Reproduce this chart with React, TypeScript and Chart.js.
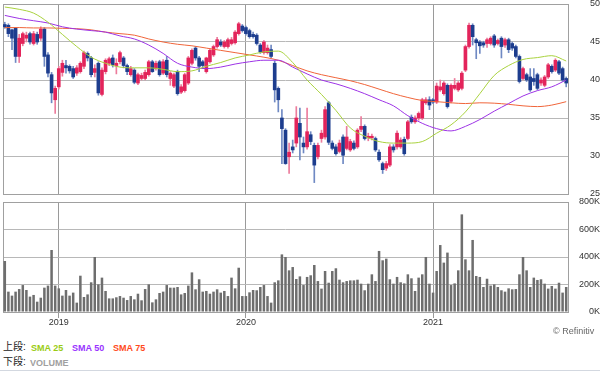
import React, { useEffect, useRef } from 'react';
import { Chart, registerables } from 'chart.js';

Chart.register(...registerables);

// ---------- data ----------
const yearLabels = ['2019', '2020', '2021'];
const yearIndex = [15, 67, 119];

const opens = [
  47.3, 47.2, 46.6, 46.8, 43.1, 44.8, 45.5, 46.1, 44.8, 46.0,
  45.5, 46.7, 43.3, 40.7, 37.4, 39.1, 41.0, 41.9, 41.8, 41.5,
  40.9, 41.1, 41.8, 43.5, 42.9, 41.0, 42.2, 38.1, 41.1, 42.2,
  42.9, 41.9, 42.4, 42.9, 41.9, 40.7, 41.3, 39.6, 40.2, 40.2,
  40.7, 42.4, 41.5, 42.4, 40.9, 42.6, 40.2, 39.2, 41.1, 38.4,
  38.6, 39.6, 42.2, 44.2, 42.9, 42.4, 41.1, 42.4, 43.3, 44.4,
  45.0, 44.4, 44.4, 44.8, 44.9, 46.1, 47.1, 46.9, 46.5, 46.0,
  45.9, 44.6, 43.6, 43.6, 44.0, 42.2, 38.9, 35.0, 33.4, 29.9,
  31.2, 31.7, 34.3, 31.7, 31.2, 32.8, 31.4, 29.9, 32.3, 32.5,
  37.0, 31.7, 31.2, 30.6, 32.5, 31.0, 30.8, 31.7, 31.2, 33.5,
  33.9, 32.4, 32.4, 32.3, 30.5, 29.0, 28.4, 28.8, 31.2, 31.2,
  31.2, 32.2, 32.3, 35.1, 34.5, 35.0, 35.0, 37.0, 37.4, 37.4,
  37.1, 38.7, 38.2, 39.3, 37.2, 38.9, 38.7, 38.9, 41.3, 44.4,
  47.2, 45.3, 45.0, 44.9, 44.8, 44.8, 45.8, 44.8, 45.5, 44.6,
  45.3, 44.8, 44.4, 43.1, 40.2, 40.7, 40.4, 40.2, 40.7, 39.6,
  39.3, 40.4, 41.8, 41.3, 42.4, 41.5, 40.2,
];
const highs = [
  47.6, 47.4, 46.7, 46.9, 46.0, 46.3, 46.3, 46.3, 46.4, 46.3,
  47.0, 46.9, 43.6, 41.0, 39.2, 41.8, 42.6, 42.6, 42.0, 41.8,
  41.9, 42.4, 43.8, 43.7, 43.1, 42.0, 42.4, 41.6, 42.8, 43.0,
  43.3, 42.8, 43.8, 43.1, 42.1, 41.8, 41.5, 40.9, 40.9, 41.3,
  42.6, 42.6, 42.5, 42.6, 42.7, 43.1, 41.1, 40.9, 41.3, 39.4,
  40.9, 43.1, 44.1, 44.4, 43.1, 42.6, 43.0, 44.1, 44.6, 45.6,
  45.3, 45.2, 45.5, 45.6, 46.5, 47.6, 47.3, 47.1, 46.7, 46.3,
  46.1, 44.8, 45.2, 44.6, 44.6, 42.5, 39.1, 36.1, 33.6, 31.7,
  32.1, 36.5, 36.3, 32.5, 36.3, 33.2, 31.7, 31.7, 33.4, 36.5,
  37.2, 32.0, 31.5, 32.1, 32.8, 33.9, 32.2, 32.0, 33.6, 35.2,
  34.1, 33.0, 32.9, 32.5, 30.8, 29.2, 29.3, 31.5, 31.5, 33.3,
  32.4, 32.5, 34.7, 35.4, 35.3, 35.8, 37.6, 37.7, 37.8, 37.6,
  39.6, 40.0, 39.8, 39.5, 39.5, 40.2, 39.8, 41.1, 44.6, 47.5,
  47.4, 45.5, 45.2, 45.1, 45.5, 45.7, 46.0, 45.4, 45.7, 45.5,
  45.5, 45.0, 44.6, 43.3, 41.7, 40.9, 41.5, 41.5, 40.9, 40.3,
  40.6, 42.2, 42.0, 42.8, 42.6, 41.7, 40.4,
];
const lows = [
  46.8, 45.7, 44.0, 42.3, 42.3, 44.5, 45.0, 44.7, 44.6, 44.7,
  45.2, 41.8, 40.4, 37.0, 35.6, 38.8, 40.5, 40.9, 40.9, 40.2,
  40.6, 40.9, 41.5, 42.5, 40.4, 40.4, 38.0, 37.9, 40.8, 41.9,
  41.7, 40.8, 42.1, 41.6, 40.7, 40.5, 39.5, 39.4, 40.0, 40.0,
  40.5, 41.0, 41.3, 40.5, 40.7, 40.4, 39.3, 39.0, 38.0, 38.2,
  38.4, 39.4, 42.0, 42.6, 41.1, 41.5, 40.9, 42.2, 43.1, 44.2,
  44.4, 44.2, 44.2, 44.6, 44.7, 45.9, 46.3, 45.9, 45.5, 45.5,
  44.6, 43.5, 43.4, 43.4, 42.9, 37.1, 35.8, 29.0, 28.9, 27.7,
  30.4, 31.2, 29.5, 30.4, 30.9, 31.5, 26.5, 29.6, 31.8, 32.2,
  31.5, 30.8, 30.1, 30.4, 29.0, 30.8, 30.6, 30.8, 31.0, 33.2,
  32.1, 32.0, 32.1, 30.6, 29.3, 27.7, 28.1, 28.6, 30.5, 30.9,
  31.0, 30.1, 32.1, 34.3, 34.3, 34.7, 34.8, 36.8, 36.1, 36.9,
  36.9, 38.5, 38.0, 36.3, 37.0, 38.7, 38.5, 38.7, 41.1, 44.2,
  44.6, 42.8, 43.5, 44.3, 44.3, 44.6, 44.3, 44.6, 42.9, 44.3,
  43.6, 43.9, 42.9, 39.6, 40.0, 39.8, 38.5, 39.3, 38.7, 39.3,
  39.1, 40.2, 40.9, 41.1, 40.7, 39.8, 39.1,
];
const closes = [
  47.0, 46.1, 45.5, 43.1, 45.5, 46.1, 45.9, 45.0, 46.1, 45.0,
  46.7, 43.1, 40.9, 38.3, 38.9, 41.5, 42.2, 41.6, 41.2, 40.4,
  41.6, 42.2, 43.6, 42.9, 40.7, 41.5, 38.3, 41.3, 42.6, 42.8,
  42.0, 42.2, 43.6, 41.9, 41.1, 41.5, 39.7, 40.7, 40.6, 41.0,
  42.4, 41.1, 42.2, 40.7, 42.4, 40.7, 40.9, 40.7, 38.2, 39.1,
  40.7, 42.9, 43.9, 42.9, 41.8, 41.9, 42.9, 43.9, 44.4, 45.3,
  44.6, 45.0, 45.3, 45.3, 46.3, 47.4, 46.5, 46.1, 45.7, 45.7,
  44.8, 43.7, 45.0, 44.2, 43.1, 38.7, 37.4, 33.6, 29.0, 30.5,
  30.8, 35.0, 32.5, 31.2, 33.2, 31.9, 28.8, 31.4, 33.0, 36.1,
  31.8, 31.0, 30.3, 31.7, 30.1, 32.5, 31.9, 31.0, 33.4, 33.9,
  32.3, 32.6, 32.6, 30.8, 29.5, 28.2, 29.0, 31.2, 30.8, 33.0,
  32.1, 30.3, 34.5, 34.5, 35.0, 35.6, 37.4, 37.4, 36.7, 37.1,
  39.2, 39.1, 39.6, 36.5, 39.3, 39.3, 39.6, 40.9, 44.4, 47.2,
  45.7, 44.9, 44.5, 44.6, 45.3, 45.5, 44.6, 45.2, 44.4, 45.3,
  44.0, 44.2, 43.1, 39.8, 41.5, 40.0, 38.7, 39.8, 38.9, 40.0,
  40.4, 42.0, 41.1, 42.6, 40.9, 40.0, 39.6,
];

// weekly volume, thousands of shares
const volumes = [
  371, 148, 119, 148, 167, 196, 160, 112, 124, 75,
  104, 177, 192, 451, 192, 172, 119, 160, 119, 141,
  68, 264, 109, 128, 216, 400, 201, 250, 153, 99,
  99, 107, 116, 104, 87, 116, 92, 133, 85, 167,
  201, 70, 92, 138, 148, 196, 177, 177, 182, 128,
  138, 192, 288, 165, 238, 148, 153, 133, 148, 165,
  141, 153, 116, 250, 172, 322, 116, 116, 143, 160,
  158, 182, 196, 116, 68, 216, 230, 419, 400, 303,
  327, 240, 259, 196, 255, 267, 342, 225, 170, 298,
  213, 298, 318, 235, 216, 225, 230, 230, 235, 206,
  158, 206, 274, 225, 444, 376, 388, 238, 206, 255,
  216, 208, 274, 245, 153, 250, 274, 400, 206, 141,
  298, 487, 359, 432, 196, 208, 303, 710, 383, 303,
  524, 262, 255, 182, 242, 192, 201, 182, 158, 148,
  172, 165, 167, 274, 400, 303, 182, 250, 233, 238,
  206, 170, 189, 170, 213, 141, 182,
];

// moving averages at every 4th week
const smaIndex = [
  0, 4, 8, 12, 16, 20, 24, 28, 32, 36,
  40, 44, 48, 52, 56, 60, 64, 68, 72, 76,
  80, 84, 88, 92, 96, 100, 104, 108, 112, 116,
  120, 124, 128, 132, 136, 140, 144, 148, 152, 156,
];
const sma25 = [
  49.6, 49.3, 48.8, 47.6, 46.0, 44.4, 43.0, 42.2, 41.7, 41.6,
  41.6, 41.4, 41.1, 41.2, 41.8, 42.3, 42.9, 43.3, 43.7, 43.8,
  42.3, 40.0, 38.1, 36.0, 33.7, 32.6, 31.9, 31.7, 31.7, 31.9,
  33.0, 34.1, 35.8, 38.2, 40.6, 41.9, 42.7, 42.95, 43.2, 42.5,
];
const sma50 = [
  48.5, 48.1, 47.8, 47.5, 47.0, 46.7, 46.5, 46.3, 45.8, 45.4,
  44.6, 43.5, 42.2, 41.7, 41.5, 41.7, 42.1, 42.4, 42.6, 42.6,
  41.7, 40.8, 40.0, 39.5, 38.9, 38.2, 37.4, 36.6, 35.3, 34.3,
  33.6, 33.3, 33.9, 34.8, 35.9, 36.9, 37.9, 38.6, 39.1, 40.0,
];
const sma75 = [
  46.9, 46.9, 46.85, 46.85, 46.8, 46.75, 46.6, 46.3, 46.1, 45.9,
  45.4, 45.0, 44.7, 44.5, 44.2, 43.9, 43.6, 43.3, 43.0, 42.6,
  41.9, 41.2, 40.7, 40.3, 39.9, 39.4, 38.8, 38.2, 37.7, 37.3,
  37.15, 37.0, 36.9, 37.0, 36.95, 36.8, 36.6, 36.5, 36.7, 37.15,
];

// ---------- styling ----------
const UP = '#e3245b';
const UP_WICK = '#ec7c9c';
const DOWN = '#1d3d8e';
const DOWN_WICK = '#6f89c3';
const GREEN = '#a9d23e';
const PURPLE = '#9d33e6';
const ORANGE = '#f0653a';
const AXIS_FONT = { family: '"Liberation Sans", Arial, sans-serif', size: 9, lineHeight: 0.8 };
const TEXT = '#333333';
const CLEAR = 'rgba(0,0,0,0)';

const weeks = opens.map((_, i) => String(i));
const isUp = (i: number) => closes[i] >= opens[i];

function sparse(values: number[]) {
  const arr: (number | null)[] = weeks.map(() => null);
  smaIndex.forEach((k, j) => {
    arr[k] = values[j];
  });
  return arr;
}

const framePlugin = {
  id: 'frame',
  beforeDatasetsDraw(chart: any) {
    const { ctx, chartArea: a } = chart;
    ctx.save();
    ctx.strokeStyle = '#a0a0a0';
    ctx.lineWidth = 1;
    ctx.strokeRect(
      Math.round(a.left) + 0.5,
      Math.round(a.top) + 0.5,
      Math.round(a.right) - Math.round(a.left),
      Math.round(a.bottom) - Math.round(a.top)
    );
    ctx.restore();
  },
};

function xAxis(showLabels: boolean) {
  return {
    type: 'category',
    offset: true,
    grid: {
      offset: false,
      drawTicks: showLabels,
      tickLength: 6,
      color: (c: any) => (yearIndex.includes(c.index) ? '#9a9a9a' : CLEAR),
    },
    border: { display: true, color: '#a0a0a0' },
    ticks: {
      display: showLabels,
      autoSkip: false,
      maxRotation: 0,
      minRotation: 0,
      padding: 1,
      font: AXIS_FONT,
      color: TEXT,
      callback: (_v: any, i: number) => {
        const k = yearIndex.indexOf(i);
        return k >= 0 ? yearLabels[k] : '';
      },
    },
    afterFit: (s: any) => {
      s.height = showLabels ? 24 : 0;
    },
  };
}

function yAxis(min: number, max: number, step: number, gap: number, fmt?: (v: any) => string) {
  return {
    position: 'right',
    min,
    max,
    ticks: {
      stepSize: step,
      font: AXIS_FONT,
      color: TEXT,
      padding: 0,
      crossAlign: 'far',
      ...(fmt ? { callback: fmt } : {}),
    },
    grid: { color: '#b8b8b8', drawTicks: true, tickLength: gap, tickColor: CLEAR },
    border: { display: true, color: '#a0a0a0' },
    afterFit: (s: any) => {
      s.width = 32;
    },
  };
}

export default function App() {
  const priceRef = useRef<HTMLCanvasElement>(null);
  const volRef = useRef<HTMLCanvasElement>(null);

  useEffect(() => {
    const lineSet = (values: number[], color: string) => ({
      type: 'line',
      data: sparse(values),
      borderColor: color,
      borderWidth: 1,
      pointRadius: 0,
      spanGaps: true,
      cubicInterpolationMode: 'monotone',
      order: 0,
    });

    const price = new Chart(priceRef.current!, {
      type: 'bar',
      data: {
        labels: weeks,
        datasets: [
          lineSet(sma25, GREEN),
          lineSet(sma50, PURPLE),
          lineSet(sma75, ORANGE),
          {
            type: 'bar',
            data: weeks.map((_, i) => [lows[i], highs[i]]),
            backgroundColor: weeks.map((_, i) => (isUp(i) ? UP_WICK : DOWN_WICK)),
            barThickness: 1,
            grouped: false,
            order: 3,
          },
          {
            type: 'bar',
            data: weeks.map((_, i) => [opens[i], closes[i]]),
            backgroundColor: weeks.map((_, i) => (isUp(i) ? UP : DOWN)),
            barThickness: 3,
            grouped: false,
            order: 2,
          },
        ] as any,
      },
      options: {
        responsive: false,
        animation: false,
        devicePixelRatio: 1,
        layout: { padding: { left: 3, top: 4, right: 0, bottom: 4 } },
        plugins: { legend: { display: false }, tooltip: { enabled: false } },
        scales: {
          x: xAxis(false) as any,
          y: yAxis(25, 50, 5, 18) as any,
        },
      },
      plugins: [framePlugin],
    });

    const vol = new Chart(volRef.current!, {
      type: 'bar',
      data: {
        labels: weeks,
        datasets: [
          {
            data: volumes,
            backgroundColor: '#6e6e6e',
            barPercentage: 0.7,
            categoryPercentage: 1,
          },
        ],
      },
      options: {
        responsive: false,
        animation: false,
        devicePixelRatio: 1,
        layout: { padding: { left: 3, top: 4, right: 0, bottom: 0 } },
        plugins: { legend: { display: false }, tooltip: { enabled: false } },
        scales: {
          x: xAxis(true) as any,
          y: yAxis(0, 800, 200, 8, (v: any) => v + 'K') as any,
        },
      },
      plugins: [framePlugin],
    });

    return () => {
      price.destroy();
      vol.destroy();
    };
  }, []);

  const legendFont = '"Liberation Sans", Arial, "Noto Sans CJK JP", sans-serif';
  const abs = (left: number, top: number, extra: any = {}) => ({
    position: 'absolute' as const,
    left,
    top,
    whiteSpace: 'nowrap' as const,
    fontFamily: legendFont,
    lineHeight: '12px',
    ...extra,
  });

  return (
    <div style={{ position: 'absolute', left: 0, top: 0, width: 600, height: 372, background: '#fff', overflow: 'hidden' }}>
      <canvas ref={priceRef} width={600} height={198} style={{ position: 'absolute', left: 0, top: 0, display: 'block' }} />
      <canvas ref={volRef} width={600} height={138} style={{ position: 'absolute', left: 0, top: 198, display: 'block' }} />
      <div style={abs(553, 325, { fontSize: 9, color: '#666' })}>© Refinitiv</div>
      <div style={abs(3, 341, { fontSize: 10, color: '#222' })}>上段:</div>
      <div style={abs(31, 342, { fontSize: 9, fontWeight: 'bold', color: '#9acc14' })}>SMA 25</div>
      <div style={abs(72, 342, { fontSize: 9, fontWeight: 'bold', color: '#9933ff' })}>SMA 50</div>
      <div style={abs(113, 342, { fontSize: 9, fontWeight: 'bold', color: '#ff4a1c' })}>SMA 75</div>
      <div style={abs(3, 356, { fontSize: 10, color: '#222' })}>下段:</div>
      <div style={abs(30, 357, { fontSize: 9, fontWeight: 'bold', color: '#a0a0a0' })}>VOLUME</div>
      <div style={{ position: 'absolute', left: 0, top: 370, width: 600, height: 1, background: '#d3d8e0' }} />
    </div>
  );
}
